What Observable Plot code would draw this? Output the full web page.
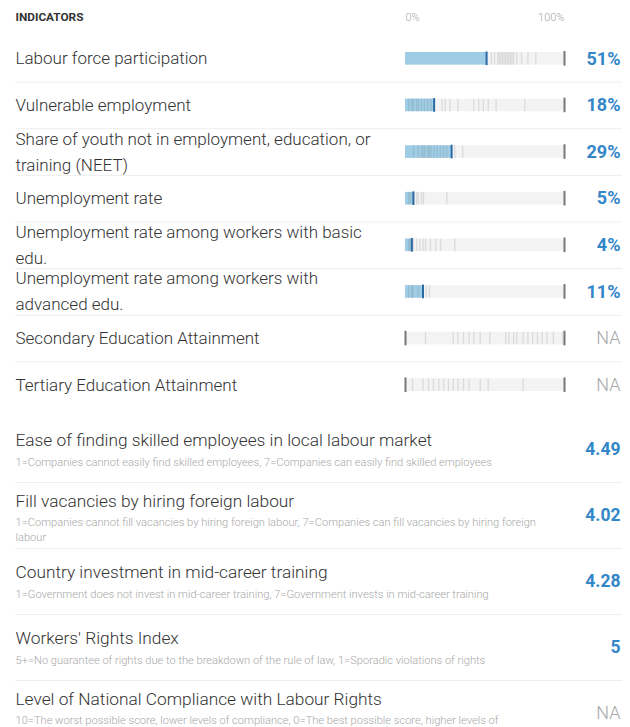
<!DOCTYPE html>
<html><head><meta charset="utf-8">
<script src="https://cdn.jsdelivr.net/npm/d3@7"></script>
<script src="https://cdn.jsdelivr.net/npm/@observablehq/plot@0.6"></script>
<style>
html,body{margin:0;padding:0;background:#fff;overflow:hidden;}
#chart svg{display:block;}
</style></head><body><div id="chart"></div>
<script>
// ---- data ----
const headerLabel = "INDICATORS";
const axisTicks = [0, 100];
const axisLabels = ["0%", "100%"];

const barIndicators = [
  "Labour force participation",
  "Vulnerable employment",
  "Share of youth not in employment, education, or\ntraining (NEET)",
  "Unemployment rate",
  "Unemployment rate among workers with basic\nedu.",
  "Unemployment rate among workers with\nadvanced edu.",
  "Secondary Education Attainment",
  "Tertiary Education Attainment"
];
const barValues = [51, 18, 29, 5, 4, 11, null, null];
// other countries' values (grey distribution ticks)
const barDistributions = [
  [54, 56, 58, 59, 60, 61, 62, 63, 64, 65, 66, 67, 68, 70, 73, 77, 82],
  [2, 4, 5, 7, 8, 10, 12, 14, 16, 23, 25, 28, 33, 43, 46, 49, 52, 57, 75],
  [5, 8, 10, 11, 12, 14, 15, 16, 18, 20, 22, 24, 26, 31, 36],
  [2, 3, 4.4, 7, 8, 10, 11.3, 26],
  [2, 3, 5, 7, 9, 11, 12.6, 15.7, 19, 22, 31],
  [2, 4, 4.5, 8, 13, 15],
  [12.6, 30, 33, 36.5, 40, 43, 47, 53, 63, 65, 68, 70, 74, 77, 80, 83, 86, 89, 93, 99],
  [4.4, 11, 14.5, 17.6, 21, 24, 27, 30, 33, 36.5, 40, 47, 52, 74]
];

const scoreIndicators = [
  "Ease of finding skilled employees in local labour market",
  "Fill vacancies by hiring foreign labour",
  "Country investment in mid-career training",
  "Workers' Rights Index",
  "Level of National Compliance with Labour Rights"
];
const scoreNotes = [
  "1=Companies cannot easily find skilled employees, 7=Companies can easily find skilled employees",
  "1=Companies cannot fill vacancies by hiring foreign labour, 7=Companies can fill vacancies by hiring foreign\nlabour",
  "1=Government does not invest in mid-career training, 7=Government invests in mid-career training",
  "5+=No guarantee of rights due to the breakdown of the rule of law, 1=Sporadic violations of rights",
  "10=The worst possible score, lower levels of compliance, 0=The best possible score, higher levels of\ncompliance"
];
const scoreValues = [4.49, 4.02, 4.28, 5, null];

// ---- styles ----
const FONT = "Roboto, 'Helvetica Neue', Helvetica, Arial, sans-serif";
const TEXT = "#333";
const MUTED = "#a8a8a8";
const BLUE = "#3386c8";
const FILL = "#9fcde6";
const MARK = "#2a6aa3";
const TRACK = "#f3f3f3";
const SEP = "#eeeeee";

const rows = barIndicators.map((name, i) => ({name, value: barValues[i]}));
const withVal = rows.filter(d => d.value != null);
const noVal = rows.filter(d => d.value == null);
const dist = barDistributions.flatMap((arr, i) => arr.map(v => ({name: barIndicators[i], v})));
const pct = v => v + "%";
const inset = 17;
const LH = 1.53, LFS = 17;

const p1 = Plot.plot({
  width: 630, height: 410,
  marginLeft: 0, marginRight: 0, marginTop: 35, marginBottom: 2,
  style: {fontFamily: FONT, background: "#fff", overflow: "visible"},
  x: {domain: [0, 100], range: [405, 564], axis: null},
  y: {type: "band", domain: barIndicators, range: [35, 408], padding: 0, round: false, axis: null},
  marks: [
    Plot.text([headerLabel], {text: d => d, frameAnchor: "top-left", lineAnchor: "middle", dx: 15, dy: -18, fontSize: 11.8, fontWeight: 700, fill: TEXT}),
    Plot.text([axisTicks[0]], {x: d => d, text: () => axisLabels[0], frameAnchor: "top", lineAnchor: "middle", dy: -18, textAnchor: "start", fontSize: 11, fontWeight: 300, fill: MUTED}),
    Plot.text([axisTicks[1]], {x: d => d, text: () => axisLabels[1], frameAnchor: "top", lineAnchor: "middle", dy: -18, textAnchor: "end", fontSize: 11, fontWeight: 300, fill: MUTED}),
    Plot.ruleY(barIndicators.slice(0, -1), {y: d => d, dy: 23.3, stroke: SEP, strokeWidth: 1, insetLeft: 15, insetRight: 8}),
    Plot.barX(rows, {x1: 0, x2: 100, y: "name", fill: TRACK, insetTop: inset, insetBottom: inset}),
    Plot.barX(withVal, {x1: 0, x2: "value", y: "name", fill: FILL, insetTop: inset, insetBottom: inset}),
    Plot.tickX(dist, {x: "v", y: "name", stroke: "#6f6f6f", strokeOpacity: 0.18, strokeWidth: 1.3, insetTop: inset, insetBottom: inset}),
    Plot.tickX(withVal, {x: "value", y: "name", stroke: MARK, strokeWidth: 2, insetTop: inset - 0.5, insetBottom: inset - 0.5}),
    Plot.tickX(rows, {x: 100, y: "name", stroke: "#777", strokeWidth: 2, insetTop: inset - 1, insetBottom: inset - 1}),
    Plot.tickX(noVal, {x: 0, y: "name", stroke: "#777", strokeWidth: 2, insetTop: inset - 1, insetBottom: inset - 1}),
    Plot.text(rows, {y: "name", text: "name", frameAnchor: "left", dx: 15, dy: -0.32 * (LH - 1) * LFS, textAnchor: "start", fontSize: LFS, fontWeight: 300, fill: TEXT, lineHeight: LH}),
    Plot.text(withVal, {y: "name", text: d => pct(d.value), frameAnchor: "right", dx: -10, textAnchor: "end", fontSize: 18, fontWeight: 700, fill: BLUE}),
    Plot.text(noVal, {y: "name", text: () => "NA", frameAnchor: "right", dx: -10, textAnchor: "end", fontSize: 18, fontWeight: 300, fill: MUTED})
  ]
});

const srows = scoreIndicators.map((name, i) => ({name, note: scoreNotes[i], value: scoreValues[i], lines: scoreNotes[i].split("\n").length}));
const one = srows.filter(d => d.lines === 1);
const two = srows.filter(d => d.lines > 1);
const sv = srows.filter(d => d.value != null);
const sna = srows.filter(d => d.value == null);
const NLH = 1.4, NFS = 11.1;

const p2 = Plot.plot({
  width: 630, height: 330,
  marginLeft: 0, marginRight: 0, marginTop: 6, marginBottom: 0,
  style: {fontFamily: FONT, background: "#fff", overflow: "visible"},
  x: {axis: null},
  y: {type: "band", domain: scoreIndicators, range: [6, 336], padding: 0, round: false, axis: null},
  marks: [
    Plot.ruleY(scoreIndicators.slice(0, -1), {y: d => d, dy: 33, stroke: SEP, strokeWidth: 1, insetLeft: 15, insetRight: 8}),
    Plot.text(one, {y: "name", text: "name", frameAnchor: "left", dx: 15, dy: -9, textAnchor: "start", fontSize: 17.3, fontWeight: 300, fill: TEXT}),
    Plot.text(one, {y: "name", text: "note", frameAnchor: "left", dx: 15, dy: 13, textAnchor: "start", fontSize: NFS, fontWeight: 300, fill: MUTED}),
    Plot.text(two, {y: "name", text: "name", frameAnchor: "left", dx: 15, dy: -14, textAnchor: "start", fontSize: 17.3, fontWeight: 300, fill: TEXT}),
    Plot.text(two, {y: "name", text: "note", frameAnchor: "left", dx: 15, dy: 14.5 - 0.32 * (NLH - 1) * NFS, textAnchor: "start", fontSize: NFS, fontWeight: 300, fill: MUTED, lineHeight: NLH}),
    Plot.text(sv, {y: "name", text: d => String(d.value), frameAnchor: "right", dx: -10, textAnchor: "end", fontSize: 17.5, fontWeight: 700, fill: BLUE}),
    Plot.text(sna, {y: "name", text: () => "NA", frameAnchor: "right", dx: -10, textAnchor: "end", fontSize: 18, fontWeight: 300, fill: MUTED})
  ]
});

const root = document.getElementById("chart");
root.append(p1, p2);
</script>
</body></html>
